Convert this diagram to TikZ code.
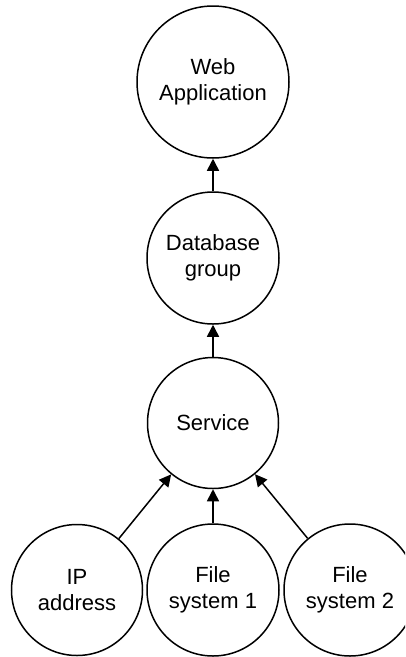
\documentclass[tikz,border=0pt]{standalone}
\usepackage{fontspec}
\setmainfont{Liberation Sans}
\usetikzlibrary{arrows.meta}
\begin{document}
\begin{tikzpicture}[x=1pt,y=-1pt,
  comp/.style={draw, circle, line width=1.5pt, inner sep=0pt, align=center,
    font=\fontsize{22}{26.5}\selectfont},
  dep/.style={line width=1.5pt, -{Triangle[width=12pt,length=12pt]}}]
\useasboundingbox (0,0) rectangle (405,657);
\clip (0,0) rectangle (405,657);
\node[comp, minimum size=152pt] (web) at (213,82) {Web\\Application};
\node[comp, minimum size=132pt] (db) at (213,258) {Database\\group};
\node[comp, minimum size=131pt] (svc) at (213,423) {Service};
\node[comp, minimum size=131pt] (ip) at (77,590) {IP\\address};
\node[comp, minimum size=132pt] (fs1) at (213,590) {File\\system 1};
\node[comp, minimum size=132pt] (fs2) at (350,590) {File\\system 2};
\draw[dep] (db) -- (web);
\draw[dep] (svc) -- (db);
\draw[dep] (ip) -- (svc);
\draw[dep] (fs1) -- (svc);
\draw[dep] (fs2) -- (svc);
\end{tikzpicture}
\end{document}
